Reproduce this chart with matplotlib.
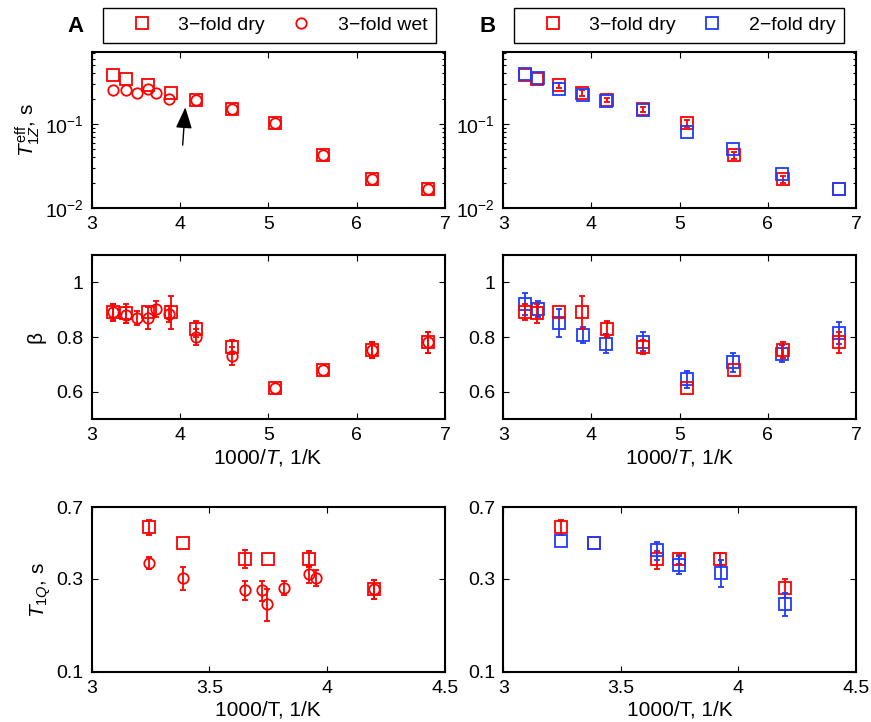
import matplotlib
matplotlib.use("Agg")
import matplotlib.pyplot as plt
from matplotlib.lines import Line2D
from matplotlib.ticker import FixedLocator, NullLocator, FixedFormatter, LogLocator
import numpy as np

plt.rcParams['font.family'] = ['Liberation Sans', 'DejaVu Sans']
plt.rcParams['mathtext.fontset'] = 'custom'
plt.rcParams['mathtext.rm'] = 'Liberation Sans'
plt.rcParams['mathtext.it'] = 'Liberation Sans:italic'
plt.rcParams['mathtext.bf'] = 'Liberation Sans:bold'

RED = '#FF0000'
BLUE = '#1E3CFF'

# ---------------- data ----------------
# Row 1: T1Z eff (s) vs 1000/T
x_dry3 = [3.245, 3.385, 3.634, 3.898, 4.18, 4.59, 5.08, 5.615, 6.17, 6.81]
t1z_dry3 = [0.38, 0.34, 0.29, 0.236, 0.193, 0.15, 0.103, 0.0428, 0.0219, 0.0167]
t1z_dry3_err = [0.0, 0.0, 0.02, 0.02, 0.01, 0.01, 0.01, 0.004, 0.002, 0.0]

x_wet3 = [3.245, 3.385, 3.51, 3.634, 3.725, 3.87, 4.18, 4.59, 5.08, 5.615, 6.17, 6.81]
t1z_wet3 = [0.254, 0.254, 0.232, 0.259, 0.232, 0.199, 0.193, 0.15, 0.103, 0.0428, 0.0219, 0.0167]

x_dry2 = [3.25, 3.39, 3.63, 3.90, 4.17, 4.585, 5.08, 5.61, 6.165, 6.81]
t1z_dry2 = [0.39, 0.356, 0.259, 0.219, 0.19, 0.147, 0.081, 0.0504, 0.0254, 0.0167]

# Row 2: stretching exponent beta
beta_dry3 = [0.891, 0.887, 0.89, 0.891, 0.83, 0.764, 0.615, 0.681, 0.752, 0.78]
beta_dry3_err = [0.03, 0.035, 0.0, 0.06, 0.03, 0.025, 0.0, 0.0, 0.03, 0.04]
beta_wet3 = [0.89, 0.88, 0.869, 0.869, 0.903, 0.885, 0.80, 0.732, 0.615, 0.681, 0.752, 0.78]
beta_wet3_err = [0.03, 0.03, 0.025, 0.04, 0.03, 0.03, 0.03, 0.033, 0.0, 0.0, 0.03, 0.04]
beta_dry2 = [0.92, 0.902, 0.851, 0.808, 0.776, 0.782, 0.645, 0.708, 0.739, 0.815]
beta_dry2_err = [0.04, 0.03, 0.05, 0.03, 0.035, 0.035, 0.03, 0.035, 0.03, 0.04]

# Row 3: T1Q (s)
xq_dry3 = [3.245, 3.387, 3.652, 3.748, 3.923, 4.197]
t1q_dry3 = [0.553, 0.458, 0.38, 0.377, 0.38, 0.267]
t1q_dry3_err = [0.05, 0.0, 0.04, 0.0, 0.035, 0.03]

xq_wet3 = [3.245, 3.387, 3.652, 3.723, 3.743, 3.816, 3.923, 3.951, 4.197]
t1q_wet3 = [0.363, 0.303, 0.262, 0.262, 0.224, 0.27, 0.319, 0.304, 0.267]
t1q_wet3_err = [0.026, 0.04, 0.029, 0.032, 0.042, 0.022, 0.032, 0.028, 0.03]

# panel B bottom row
t1q_dry3_b = [0.553, 0.458, 0.377, 0.377, 0.38, 0.27]
t1q_dry3_b_err = [0.05, 0.0, 0.04, 0.02, 0.025, 0.03]
xq_dry2 = [3.246, 3.386, 3.653, 3.747, 3.926, 4.196]
t1q_dry2 = [0.469, 0.458, 0.42, 0.355, 0.323, 0.224]
t1q_dry2_err = [0.0, 0.0, 0.044, 0.037, 0.05, 0.03]

legend_A = ['3\u2212fold dry', '3\u2212fold wet']
legend_B = ['3\u2212fold dry', '2\u2212fold dry']

# ---------------- figure ----------------
W, H = 871, 722
fig = plt.figure(figsize=(W / 100, H / 100), dpi=100)

def ax_at(x0, y0, x1, y1):
    return fig.add_axes([x0 / W, 1 - y1 / H, (x1 - x0) / W, (y1 - y0) / H])

colx = [(91.7, 445), (503.3, 856)]
rowy = [(52, 208), (255, 419), (507, 672)]
axes = [[ax_at(cx[0], ry[0], cx[1], ry[1]) for cx in colx] for ry in rowy]

FS = 14
MS_SQ = 8
MS_CI = 7.5
MEW = 1.3

def style(ax):
    for s in ax.spines.values():
        s.set_linewidth(1.5)
    ax.tick_params(which='both', direction='in', top=True, right=True, labelsize=FS,
                   width=0.8, pad=6)
    ax.tick_params(which='major', length=4)
    ax.tick_params(which='minor', length=2.5)

def pts(ax, x, y, err, marker, color, ms):
    ax.plot(x, y, linestyle='none', marker=marker, ms=ms, mfc='none',
            mec=color, mew=MEW)
    if err is not None:
        x = np.asarray(x); y = np.asarray(y); e = np.asarray(err)
        m = e > 0
        ax.errorbar(x[m], y[m], yerr=e[m], fmt='none', ecolor=color,
                    elinewidth=1.3, capsize=2.5, capthick=1.3)

# Row 1
for j in range(2):
    ax = axes[0][j]
    ax.set_yscale('log')
    ax.set_xlim(3, 7)
    ax.set_ylim(0.01, 0.72)
    ax.set_xticks([3, 4, 5, 6, 7])
    ax.yaxis.set_major_locator(FixedLocator([0.01, 0.1]))
    ax.yaxis.set_minor_locator(LogLocator(base=10, subs=np.arange(2, 10)))
    style(ax)

pts(axes[0][0], x_dry3, t1z_dry3, None, 's', RED, MS_SQ)
pts(axes[0][0], x_wet3, t1z_wet3, None, 'o', RED, MS_CI)
axes[0][0].annotate('', xy=(4.06, 0.158), xytext=(4.03, 0.056),
                    arrowprops=dict(arrowstyle='-|>,head_length=1.3,head_width=0.5',
                                    color='k', lw=1.0, shrinkA=0, shrinkB=0))
pts(axes[0][1], x_dry3, t1z_dry3, t1z_dry3_err, 's', RED, MS_SQ)
pts(axes[0][1], x_dry2, t1z_dry2, None, 's', BLUE, MS_SQ)
axes[0][0].set_ylabel('$T_{1Z}^{\\mathrm{eff}}$, s', fontsize=FS + 1, labelpad=2)

# Row 2
for j in range(2):
    ax = axes[1][j]
    ax.set_xlim(3, 7)
    ax.set_ylim(0.5, 1.1)
    ax.set_xticks([3, 4, 5, 6, 7])
    ax.set_yticks([0.6, 0.8, 1.0])
    ax.set_yticklabels(['0.6', '0.8', '1'])
    style(ax)
    ax.set_xlabel('1000/$T$, 1/K', fontsize=FS + 1, labelpad=2)

pts(axes[1][0], x_dry3, beta_dry3, beta_dry3_err, 's', RED, MS_SQ)
pts(axes[1][0], x_wet3, beta_wet3, beta_wet3_err, 'o', RED, MS_CI)
pts(axes[1][1], x_dry2, beta_dry2, beta_dry2_err, 's', BLUE, MS_SQ)
pts(axes[1][1], x_dry3, beta_dry3, beta_dry3_err, 's', RED, MS_SQ)
axes[1][0].set_ylabel('\u03b2', fontsize=FS + 1, labelpad=8)

# Row 3
for j in range(2):
    ax = axes[2][j]
    ax.set_yscale('log')
    ax.set_xlim(3, 4.5)
    ax.set_ylim(0.1, 0.7)
    ax.set_xticks([3, 3.5, 4, 4.5])
    ax.set_xticklabels(['3', '3.5', '4', '4.5'])
    ax.yaxis.set_major_locator(FixedLocator([0.1, 0.3, 0.7]))
    ax.yaxis.set_major_formatter(FixedFormatter(['0.1', '0.3', '0.7']))
    ax.yaxis.set_minor_locator(NullLocator())
    style(ax)
    ax.set_xlabel('1000/T, 1/K', fontsize=FS + 1, labelpad=2)

pts(axes[2][0], xq_dry3, t1q_dry3, t1q_dry3_err, 's', RED, MS_SQ)
pts(axes[2][0], xq_wet3, t1q_wet3, t1q_wet3_err, 'o', RED, MS_CI)
pts(axes[2][1], xq_dry3, t1q_dry3_b, t1q_dry3_b_err, 's', RED, MS_SQ)
pts(axes[2][1], xq_dry2, t1q_dry2, t1q_dry2_err, 's', BLUE, MS_SQ)
axes[2][0].set_ylabel('$T_{1Q}$, s', fontsize=FS + 1, labelpad=2)

# Legends
def make_legend(x0, x1, labels, markers, colors, mss):
    handles = [Line2D([], [], linestyle='none', marker=m, ms=s, mfc='none', mec=c, mew=MEW)
               for m, c, s in zip(markers, colors, mss)]
    y0, y1 = 8, 43
    leg = fig.legend(handles, labels, ncol=2, loc='center',
                     bbox_to_anchor=(x0 / W, 1 - y1 / H, (x1 - x0) / W, (y1 - y0) / H),
                     mode='expand', fontsize=FS, frameon=True, fancybox=False,
                     edgecolor='k', framealpha=1, borderaxespad=0, borderpad=0.45,
                     handlelength=3.1, handletextpad=0.32, columnspacing=0.3)
    leg.get_frame().set_linewidth(1.0)
    return leg

make_legend(103, 436, legend_A, ['s', 'o'], [RED, RED], [MS_SQ, MS_CI])
make_legend(514, 844, legend_B, ['s', 's'], [RED, BLUE], [MS_SQ, MS_SQ])

fig.text(75 / W, 1 - 27 / H, 'A', fontsize=FS + 2, fontweight='bold', ha='center', va='center')
fig.text(488 / W, 1 - 27 / H, 'B', fontsize=FS + 2, fontweight='bold', ha='center', va='center')

fig.savefig('out.png', dpi=100)
